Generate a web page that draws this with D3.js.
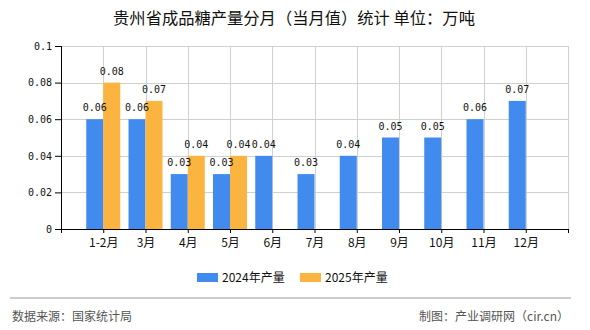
<!DOCTYPE html>
<html><head><meta charset="utf-8">
<script src="https://cdn.jsdelivr.net/npm/d3@7/dist/d3.min.js"></script>
<style>body{margin:0;background:#fff}svg{display:block}</style>
</head><body>
<script>
const categories = ["1-2月","3月","4月","5月","6月","7月","8月","9月","10月","11月","12月"];
const series2024 = [0.06,0.06,0.03,0.03,0.04,0.03,0.04,0.05,0.05,0.06,0.07];
const series2025 = [0.08,0.07,0.04,0.04,null,null,null,null,null,null,null];
const yTicks = [0,0.02,0.04,0.06,0.08,0.1];
const yTickLabels = ["0","0.02","0.04","0.06","0.08","0.1"];
const seriesNames = ["2024年产量","2025年产量"];
const colors = ["#418BEE","#FBB440"];
const title = "贵州省成品糖产量分月（当月值）统计 单位：万吨";
const sourceText = "数据来源：国家统计局";
const creditText = "制图：产业调研网（cir.cn）";

const W = 590, H = 330;
const pL = 61, pR = 568, pT = 46, pB = 229;
const svg = d3.select("body").append("svg").attr("width", W).attr("height", H);
const numFont = "'DejaVu Sans Mono', 'Liberation Mono', monospace";
const cjk = "'Noto Sans CJK SC', sans-serif";

const x = d3.scalePoint().domain(categories).range([pL, pR]).padding(1);
const y = d3.scaleLinear().domain([0, 0.1]).range([pB, pT]);
const barW = 17;

// title
svg.append("text").attr("x", 294).attr("y", 24).attr("text-anchor", "middle")
  .attr("font-family", cjk).attr("font-size", 16.3).attr("fill", "#111").text(title);

// horizontal grid
svg.append("g").selectAll("line").data(yTicks.slice(1)).join("line")
  .attr("x1", pL).attr("x2", pR).attr("y1", d => Math.round(y(d)) + 0.5).attr("y2", d => Math.round(y(d)) + 0.5)
  .attr("stroke", "#d0d0d0").attr("stroke-width", 1);
// vertical grid
const vPos = categories.map(c => x(c)).concat([pR]);
svg.append("g").selectAll("line").data(vPos).join("line")
  .attr("x1", d => Math.round(d) + 0.5).attr("x2", d => Math.round(d) + 0.5).attr("y1", pT).attr("y2", pB)
  .attr("stroke", "#d0d0d0").attr("stroke-width", 1);

// bars then labels
const all = [series2024, series2025];
const barsG = svg.append("g"), labelsG = svg.append("g");
all.forEach((s, si) => {
  const data = categories.map((c, i) => ({c, v: s[i]})).filter(d => d.v != null);
  barsG.append("g").selectAll("rect").data(data).join("rect")
    .attr("x", d => x(d.c) + (si === 0 ? -barW : 0))
    .attr("y", d => y(d.v)).attr("width", barW).attr("height", d => y(0) - y(d.v))
    .attr("fill", colors[si]);
  labelsG.append("g").selectAll("text").data(data).join("text")
    .attr("x", d => x(d.c) + (si === 0 ? -barW / 2 : barW / 2))
    .attr("y", d => y(d.v) - 8).attr("text-anchor", "middle")
    .attr("font-family", numFont).attr("font-size", 10).attr("fill", "#111")
    .text(d => d3.format(".2f")(d.v));
});

// y axis
const yAxis = svg.append("g").attr("transform", `translate(${pL},0)`)
  .call(d3.axisLeft(y).tickValues(yTicks).tickFormat((d, i) => yTickLabels[i]).tickSize(6).tickPadding(3));
yAxis.select(".domain").attr("stroke", "#000").attr("d", `M0.5,${pT}V${pB}`);
yAxis.selectAll(".tick line").attr("stroke", "#000");
yAxis.selectAll("text").attr("font-family", numFont).attr("font-size", 10).attr("fill", "#111");

// x axis
const xAxis = svg.append("g").attr("transform", `translate(0,${pB})`)
  .call(d3.axisBottom(x).tickSize(4).tickPadding(5));
xAxis.select(".domain").attr("stroke", "#000").attr("d", `M${pL},0.5H${pR}`);
xAxis.selectAll(".tick line").attr("stroke", "#000");
xAxis.selectAll("text").attr("font-family", cjk).attr("font-size", 12).attr("fill", "#111");
[pL, pR].forEach(p => xAxis.append("line").attr("x1", p + 0.5).attr("x2", p + 0.5).attr("y1", 0).attr("y2", 4).attr("stroke", "#000"));

// legend
const legX = [197, 300];
seriesNames.forEach((n, i) => {
  svg.append("rect").attr("x", legX[i]).attr("y", 273).attr("width", 21).attr("height", 9).attr("fill", colors[i]);
  svg.append("text").attr("x", legX[i] + 25).attr("y", 282).attr("font-family", cjk)
    .attr("font-size", 12).attr("fill", "#111").text(n);
});

// separator
svg.append("line").attr("x1", 10).attr("x2", 571).attr("y1", 298).attr("y2", 298)
  .attr("stroke", "#999").attr("stroke-width", 1.2);

// footer
svg.append("text").attr("x", 12).attr("y", 321).attr("font-family", cjk).attr("font-size", 12)
  .attr("fill", "#555").text(sourceText);
svg.append("text").attr("x", 569).attr("y", 321).attr("text-anchor", "end").attr("font-family", cjk)
  .attr("font-size", 12).attr("fill", "#555").text(creditText);
</script>
</body></html>
